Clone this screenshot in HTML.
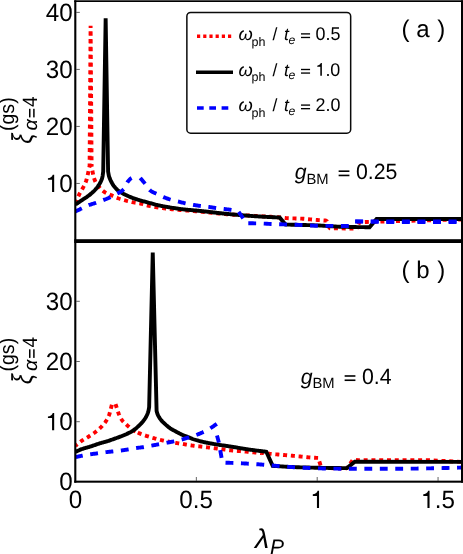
<!DOCTYPE html>
<html><head><meta charset="utf-8"><title>plot</title>
<style>
html,body{margin:0;padding:0;background:#fff;}
body{width:463px;height:554px;overflow:hidden;}
svg{display:block;font-family:"Liberation Sans",sans-serif;fill:#000;text-rendering:geometricPrecision;will-change:transform;}
</style></head><body>
<svg width="463" height="554" viewBox="0 0 463 554">
<rect width="463" height="554" fill="#fff"/>
<defs>
<clipPath id="ca"><rect x="75.5" y="1" width="386.5" height="240.5"/></clipPath>
<clipPath id="cb"><rect x="75.5" y="241.5" width="386.5" height="240.5"/></clipPath>
</defs>
<g clip-path="url(#ca)"><path d="M75.50 202.80 L76.00 201.65 L76.51 200.51 L77.01 199.37 L77.51 198.23 L78.02 197.09 L78.52 195.97 L79.03 194.88 L79.53 193.84 L80.03 192.87 L80.54 191.96 L81.04 191.09 L81.54 190.23 L82.05 189.38 L82.55 188.50 L83.05 187.57 L83.56 186.59 L84.06 185.61 L84.56 184.62 L85.07 183.57 L85.57 182.43 L86.07 181.13 L86.58 179.62 L87.08 177.64 L87.59 175.36 L88.09 173.05 L88.59 170.77 L89.10 168.42 L89.60 166.00 L90.60 25.70 L91.60 166.00" fill="none" stroke="#ff0000" stroke-width="3.9" stroke-linejoin="bevel" stroke-miterlimit="4" stroke-dasharray="4.0 3.78" stroke-dashoffset="0.75"/><path d="M91.60 166.00 L92.40 170.97 L93.20 174.82 L94.01 178.05 L94.81 180.42 L95.61 182.10 L96.41 183.51 L97.22 184.71 L98.02 185.77 L98.82 186.73 L99.62 187.65 L100.42 188.54 L101.23 189.36 L102.03 190.13 L102.83 190.82 L103.63 191.45 L104.43 191.98 L105.24 192.46 L106.04 192.89 L106.84 193.29 L107.64 193.65 L108.45 194.00 L109.25 194.34 L110.05 194.67 L110.85 195.01 L111.65 195.37 L112.46 195.74 L113.26 196.11 L114.06 196.48 L114.86 196.85 L115.66 197.21 L116.47 197.56 L117.27 197.89 L118.07 198.21 L118.87 198.50 L119.68 198.77 L120.48 199.03 L121.28 199.28 L122.08 199.52 L122.88 199.75 L123.69 199.98 L124.49 200.20 L125.29 200.41 L126.09 200.62 L126.90 200.83 L127.70 201.03 L128.50 201.23 L129.30 201.42 L130.10 201.61 L130.91 201.79 L131.71 201.97 L132.51 202.14 L133.31 202.30 L134.11 202.46 L134.92 202.60 L135.72 202.73 L136.52 202.86 L137.32 202.99 L138.13 203.12 L138.93 203.26 L139.73 203.40 L140.53 203.56 L141.33 203.75 L142.14 203.96 L142.94 204.19 L143.74 204.44 L144.54 204.69 L145.34 204.94 L146.15 205.18 L146.95 205.40 L147.75 205.60 L148.55 205.77 L149.36 205.93 L150.16 206.09 L150.96 206.24 L151.76 206.39 L152.56 206.54 L153.37 206.68 L154.17 206.82 L154.97 206.96 L155.77 207.09 L156.58 207.22 L157.38 207.34 L158.18 207.47 L158.98 207.59 L159.78 207.70 L160.59 207.82 L161.39 207.93 L162.19 208.04 L162.99 208.15 L163.79 208.25 L164.60 208.36 L165.40 208.46 L166.20 208.56 L167.00 208.65 L167.81 208.75 L168.61 208.84 L169.41 208.93 L170.21 209.02 L171.01 209.11 L171.82 209.20 L172.62 209.28 L173.42 209.36 L174.22 209.44 L175.02 209.52 L175.83 209.59 L176.63 209.67 L177.43 209.74 L178.23 209.81 L179.04 209.88 L179.84 209.94 L180.64 210.01 L181.44 210.08 L182.24 210.14 L183.05 210.21 L183.85 210.28 L184.65 210.34 L185.45 210.41 L186.26 210.48 L187.06 210.55 L187.86 210.62 L188.66 210.68 L189.46 210.75 L190.27 210.82 L191.07 210.88 L191.87 210.95 L192.67 211.01 L193.47 211.08 L194.28 211.14 L195.08 211.21 L195.88 211.28 L196.68 211.34 L197.49 211.41 L198.29 211.48 L199.09 211.54 L199.89 211.61 L200.69 211.68 L201.50 211.75 L202.30 211.83 L203.10 211.90 L203.90 211.98 L204.70 212.06 L205.51 212.14 L206.31 212.22 L207.11 212.30 L207.91 212.38 L208.72 212.47 L209.52 212.56 L210.32 212.64 L211.12 212.73 L211.92 212.81 L212.73 212.90 L213.53 212.99 L214.33 213.07 L215.13 213.16 L215.94 213.24 L216.74 213.33 L217.54 213.41 L218.34 213.49 L219.14 213.57 L219.95 213.65 L220.75 213.73 L221.55 213.80 L222.35 213.88 L223.15 213.95 L223.96 214.02 L224.76 214.08 L225.56 214.14 L226.36 214.21 L227.17 214.27 L227.97 214.33 L228.77 214.39 L229.57 214.44 L230.37 214.50 L231.18 214.56 L231.98 214.61 L232.78 214.67 L233.58 214.72 L234.38 214.77 L235.19 214.82 L235.99 214.87 L236.79 214.92 L237.59 214.97 L238.40 215.01 L239.20 215.06 L240.00 215.10" fill="none" stroke="#ff0000" stroke-width="3.9" stroke-linejoin="bevel" stroke-miterlimit="4" stroke-dasharray="4.0 3.78" stroke-dashoffset="3.09"/><path d="M240.00 215.10 L240.80 215.14 L241.60 215.18 L242.41 215.22 L243.21 215.25 L244.01 215.29 L244.81 215.33 L245.61 215.37 L246.41 215.42 L247.22 215.46 L248.02 215.50 L248.82 215.54 L249.62 215.58 L250.42 215.62 L251.23 215.67 L252.03 215.71 L252.83 215.75 L253.63 215.80 L254.43 215.84 L255.24 215.89 L256.04 215.93 L256.84 215.98 L257.64 216.02 L258.44 216.07 L259.24 216.11 L260.05 216.16 L260.85 216.21 L261.65 216.25 L262.45 216.30 L263.25 216.34 L264.06 216.39 L264.86 216.43 L265.66 216.48 L266.46 216.52 L267.26 216.57 L268.06 216.62 L268.87 216.67 L269.67 216.71 L270.47 216.76 L271.27 216.81 L272.07 216.86 L272.88 216.91 L273.68 216.97 L274.48 217.02 L275.28 217.08 L276.08 217.13 L276.89 217.19 L277.69 217.25 L278.49 217.31 L279.29 217.37 L280.09 217.43 L280.89 217.50 L281.70 217.57 L282.50 217.66 L283.30 217.76 L284.10 217.85 L284.90 217.94 L285.71 218.02 L286.51 218.09 L287.31 218.14 L288.11 218.18 L288.91 218.22 L289.71 218.25 L290.52 218.28 L291.32 218.31 L292.12 218.34 L292.92 218.36 L293.72 218.39 L294.53 218.41 L295.33 218.43 L296.13 218.46 L296.93 218.48 L297.73 218.51 L298.54 218.53 L299.34 218.56 L300.14 218.60 L300.94 218.63 L301.74 218.67 L302.54 218.71 L303.35 218.77 L304.15 218.82 L304.95 218.89 L305.75 218.96 L306.55 219.03 L307.36 219.11 L308.16 219.19 L308.96 219.26 L309.76 219.34 L310.56 219.41 L311.36 219.47 L312.17 219.54 L312.97 219.62 L313.77 219.69 L314.57 219.76 L315.37 219.83 L316.18 219.90 L316.98 219.97 L317.78 220.03 L318.58 220.10 L319.38 220.16 L320.19 220.21 L320.99 220.27 L321.79 220.32 L322.59 220.37 L323.39 220.42 L324.19 220.47 L325.00 220.51 L325.80 220.56 L326.60 220.60 L329.60 228.20 L356.60 228.60" fill="none" stroke="#ff0000" stroke-width="3.9" stroke-linejoin="bevel" stroke-miterlimit="4" stroke-dasharray="4.0 3.78" stroke-dashoffset="1.85"/><path d="M356.60 228.60 L359.60 222.20 L366.85 221.95 L430.00 220.25 L463.00 219.40" fill="none" stroke="#ff0000" stroke-width="3.9" stroke-linejoin="bevel" stroke-miterlimit="4" stroke-dasharray="4.0 3.78" stroke-dashoffset="3.24"/><path d="M75.50 204.50 L76.10 204.09 L76.70 203.68 L77.31 203.27 L77.91 202.86 L78.51 202.45 L79.11 202.04 L79.72 201.63 L80.32 201.23 L80.92 200.82 L81.52 200.42 L82.12 200.02 L82.73 199.62 L83.33 199.22 L83.93 198.83 L84.53 198.45 L85.13 198.06 L85.74 197.67 L86.34 197.27 L86.94 196.85 L87.54 196.43 L88.15 195.99 L88.75 195.54 L89.35 195.09 L89.95 194.62 L90.55 194.13 L91.16 193.62 L91.76 193.10 L92.36 192.57 L92.96 192.02 L93.57 191.45 L94.17 190.85 L94.77 190.22 L95.37 189.56 L95.97 188.86 L96.58 188.13 L97.18 187.37 L97.78 186.56 L98.38 185.69 L98.98 184.76 L99.59 183.75 L100.19 182.69 L100.79 181.60 L101.39 180.32 L102.00 178.66 L102.60 176.07 L103.20 171.50 L105.65 18.40 L108.10 171.50 L108.90 175.92 L109.70 178.37 L110.50 180.15 L111.31 181.78 L112.11 183.27 L112.91 184.61 L113.71 185.81 L114.51 186.87 L115.31 187.82 L116.11 188.70 L116.92 189.49 L117.72 190.20 L118.52 190.84 L119.32 191.41 L120.12 191.95 L120.92 192.45 L121.72 192.92 L122.53 193.37 L123.33 193.80 L124.13 194.20 L124.93 194.59 L125.73 194.97 L126.53 195.35 L127.33 195.72 L128.14 196.08 L128.94 196.43 L129.74 196.78 L130.54 197.11 L131.34 197.43 L132.14 197.75 L132.94 198.05 L133.74 198.35 L134.55 198.64 L135.35 198.91 L136.15 199.18 L136.95 199.44 L137.75 199.69 L138.55 199.92 L139.35 200.16 L140.16 200.38 L140.96 200.60 L141.76 200.82 L142.56 201.04 L143.36 201.26 L144.16 201.48 L144.96 201.70 L145.77 201.92 L146.57 202.15 L147.37 202.37 L148.17 202.59 L148.97 202.80 L149.77 203.02 L150.57 203.24 L151.38 203.46 L152.18 203.69 L152.98 203.91 L153.78 204.13 L154.58 204.35 L155.38 204.56 L156.18 204.77 L156.99 204.97 L157.79 205.15 L158.59 205.33 L159.39 205.50 L160.19 205.67 L160.99 205.83 L161.79 205.99 L162.60 206.15 L163.40 206.30 L164.20 206.45 L165.00 206.60 L165.80 206.75 L166.60 206.89 L167.40 207.02 L168.21 207.16 L169.01 207.29 L169.81 207.42 L170.61 207.55 L171.41 207.68 L172.21 207.81 L173.01 207.93 L173.81 208.05 L174.62 208.17 L175.42 208.29 L176.22 208.41 L177.02 208.52 L177.82 208.64 L178.62 208.75 L179.42 208.85 L180.23 208.96 L181.03 209.06 L181.83 209.16 L182.63 209.25 L183.43 209.35 L184.23 209.44 L185.03 209.52 L185.84 209.60 L186.64 209.68 L187.44 209.76 L188.24 209.83 L189.04 209.91 L189.84 209.98 L190.64 210.05 L191.45 210.12 L192.25 210.19 L193.05 210.26 L193.85 210.33 L194.65 210.40 L195.45 210.47 L196.25 210.55 L197.06 210.63 L197.86 210.70 L198.66 210.78 L199.46 210.87 L200.26 210.95 L201.06 211.03 L201.86 211.11 L202.67 211.20 L203.47 211.28 L204.27 211.36 L205.07 211.45 L205.87 211.54 L206.67 211.63 L207.47 211.72 L208.28 211.81 L209.08 211.90 L209.88 211.99 L210.68 212.09 L211.48 212.18 L212.28 212.28 L213.08 212.37 L213.89 212.47 L214.69 212.56 L215.49 212.66 L216.29 212.75 L217.09 212.85 L217.89 212.94 L218.69 213.03 L219.49 213.13 L220.30 213.22 L221.10 213.31 L221.90 213.39 L222.70 213.48 L223.50 213.56 L224.30 213.64 L225.10 213.72 L225.91 213.80 L226.71 213.88 L227.51 213.95 L228.31 214.03 L229.11 214.10 L229.91 214.18 L230.71 214.25 L231.52 214.32 L232.32 214.40 L233.12 214.47 L233.92 214.54 L234.72 214.61 L235.52 214.68 L236.32 214.75 L237.13 214.82 L237.93 214.89 L238.73 214.96 L239.53 215.03 L240.33 215.10 L241.13 215.16 L241.93 215.23 L242.74 215.29 L243.54 215.36 L244.34 215.42 L245.14 215.49 L245.94 215.55 L246.74 215.61 L247.54 215.67 L248.35 215.73 L249.15 215.79 L249.95 215.85 L250.75 215.91 L251.55 215.97 L252.35 216.03 L253.15 216.08 L253.96 216.14 L254.76 216.19 L255.56 216.24 L256.36 216.30 L257.16 216.35 L257.96 216.40 L258.76 216.45 L259.56 216.50 L260.37 216.55 L261.17 216.59 L261.97 216.64 L262.77 216.69 L263.57 216.73 L264.37 216.78 L265.17 216.82 L265.98 216.87 L266.78 216.91 L267.58 216.95 L268.38 216.99 L269.18 217.03 L269.98 217.07 L270.78 217.11 L271.59 217.15 L272.39 217.19 L273.19 217.23 L273.99 217.26 L274.79 217.30 L275.59 217.34 L276.39 217.37 L277.20 217.40 L278.00 217.44 L278.80 217.47 L279.60 217.50 L285.50 224.60 L287.50 224.64 L289.50 224.67 L291.50 224.71 L293.50 224.75 L295.50 224.80 L297.50 224.84 L299.50 224.89 L301.50 224.94 L303.50 224.98 L305.50 225.03 L307.50 225.08 L309.50 225.14 L311.50 225.20 L313.50 225.26 L315.50 225.33 L317.50 225.42 L319.50 225.53 L321.50 225.65 L323.50 225.78 L325.50 225.91 L327.50 226.04 L329.50 226.18 L331.50 226.30 L333.50 226.42 L335.50 226.53 L337.50 226.62 L339.50 226.69 L341.50 226.74 L343.50 226.79 L345.50 226.84 L347.50 226.89 L349.50 226.94 L351.50 226.98 L353.50 227.02 L355.50 227.06 L357.50 227.10 L359.50 227.13 L361.50 227.15 L363.50 227.17 L365.50 227.19 L367.50 227.20 L369.50 227.20 L376.60 219.00 L463.00 219.00" fill="none" stroke="#000000" stroke-width="3.9" stroke-linejoin="miter" stroke-miterlimit="4"/><path d="M75.50 211.40 L76.10 211.13 L76.71 210.85 L77.31 210.57 L77.91 210.28 L78.52 209.99 L79.12 209.69 L79.72 209.39 L80.33 209.09 L80.93 208.79 L81.53 208.49 L82.14 208.19 L82.74 207.89 L83.34 207.59 L83.95 207.30 L84.55 207.01 L85.15 206.72 L85.75 206.44 L86.36 206.17 L86.96 205.91 L87.56 205.65 L88.17 205.41 L88.77 205.17 L89.37 204.95 L89.98 204.73 L90.58 204.53 L91.18 204.33 L91.79 204.14 L92.39 203.95 L92.99 203.76 L93.60 203.57 L94.20 203.38 L94.80 203.19 L95.41 203.00 L96.01 202.80 L96.61 202.60 L97.22 202.38 L97.82 202.17 L98.42 201.96 L99.03 201.74 L99.63 201.52 L100.23 201.30 L100.84 201.08 L101.44 200.85 L102.04 200.63 L102.65 200.39 L103.25 200.16 L103.85 199.92 L104.45 199.68 L105.06 199.44 L105.66 199.19 L106.26 198.95 L106.87 198.69 L107.47 198.44 L108.07 198.18 L108.68 197.92 L109.28 197.65 L109.88 197.38 L110.49 197.10 L111.09 196.82 L111.69 196.53 L112.30 196.24 L112.90 195.94 L113.50 195.63 L114.11 195.32 L114.71 195.00 L115.31 194.68 L115.92 194.35 L116.52 194.00 L117.12 193.66 L117.73 193.33 L118.33 193.01 L118.93 192.70 L119.54 192.37 L120.14 192.03 L120.74 191.67 L121.35 191.28 L121.95 190.85 L122.55 190.37 L123.15 189.84 L123.76 189.24 L124.36 188.41 L124.96 187.22 L125.57 185.84 L126.17 184.43 L126.77 183.16 L127.38 182.20 L127.98 181.41 L128.58 180.66 L129.19 179.96 L129.79 179.33 L130.39 178.79 L131.00 178.34 L131.60 178.00" fill="none" stroke="#0000ff" stroke-width="3.9" stroke-linejoin="miter" stroke-miterlimit="4" stroke-dasharray="7.85 7.6" stroke-dashoffset="0.86"/><path d="M140.20 178.00 L141.00 178.88 L141.81 179.78 L142.61 180.71 L143.42 181.66 L144.22 182.64 L145.02 183.63 L145.83 184.73 L146.63 185.93 L147.44 187.16 L148.24 188.33 L149.05 189.36 L149.85 190.16 L150.65 190.76 L151.46 191.30 L152.26 191.78 L153.07 192.21 L153.87 192.61 L154.67 192.98 L155.48 193.35 L156.28 193.71 L157.09 194.09 L157.89 194.49 L158.69 194.89 L159.50 195.28 L160.30 195.66 L161.11 196.03 L161.91 196.40 L162.71 196.75 L163.52 197.09 L164.32 197.41 L165.13 197.73 L165.93 198.05 L166.74 198.36 L167.54 198.66 L168.34 198.95 L169.15 199.23 L169.95 199.50 L170.76 199.75 L171.56 199.99 L172.36 200.21 L173.17 200.41 L173.97 200.60 L174.78 200.79 L175.58 200.96 L176.38 201.14 L177.19 201.32 L177.99 201.50 L178.80 201.70 L179.60 201.90 L180.40 202.10 L181.21 202.31 L182.01 202.52 L182.82 202.72 L183.62 202.93 L184.43 203.13 L185.23 203.32 L186.03 203.50 L186.84 203.67 L187.64 203.84 L188.45 204.00 L189.25 204.15 L190.05 204.30 L190.86 204.45 L191.66 204.60 L192.47 204.74 L193.27 204.88 L194.07 205.01 L194.88 205.15 L195.68 205.28 L196.49 205.41 L197.29 205.54 L198.10 205.67 L198.90 205.79 L199.70 205.91 L200.51 206.03 L201.31 206.14 L202.12 206.24 L202.92 206.34 L203.72 206.42 L204.53 206.51 L205.33 206.59 L206.14 206.67 L206.94 206.76 L207.74 206.84 L208.55 206.93 L209.35 207.03 L210.16 207.14 L210.96 207.25 L211.76 207.37 L212.57 207.49 L213.37 207.61 L214.18 207.73 L214.98 207.85 L215.79 207.96 L216.59 208.07 L217.39 208.17 L218.20 208.27 L219.00 208.36 L219.81 208.45 L220.61 208.54 L221.41 208.63 L222.22 208.72 L223.02 208.81 L223.83 208.90 L224.63 209.00 L225.43 209.11 L226.24 209.21 L227.04 209.32 L227.85 209.43 L228.65 209.55 L229.45 209.67 L230.26 209.79 L231.06 209.92 L231.87 210.06 L232.67 210.21 L233.48 210.36 L234.28 210.53 L235.08 210.71 L235.89 210.90 L236.69 211.09 L237.50 211.29 L238.30 211.50 L246.80 223.30 L248.81 223.30 L250.82 223.31 L252.82 223.32 L254.83 223.34 L256.84 223.35 L258.85 223.40 L260.85 223.47 L262.86 223.56 L264.87 223.66 L266.88 223.77 L268.89 223.87 L270.89 223.96 L272.90 224.04 L274.91 224.11 L276.92 224.18 L278.93 224.24 L280.93 224.30 L282.94 224.36 L284.95 224.42 L286.96 224.48 L288.96 224.54 L290.97 224.60 L292.98 224.67 L294.99 224.73 L297.00 224.80 L299.00 224.87 L301.01 224.95 L303.02 225.03 L305.03 225.14 L307.04 225.26 L309.04 225.39 L311.05 225.52 L313.06 225.64 L315.07 225.73 L317.07 225.79 L319.08 225.81 L321.09 225.83 L323.10 225.85 L325.11 225.86 L327.11 225.88 L329.12 225.89 L331.13 225.90 L333.14 225.91 L335.15 225.92 L337.15 225.93 L339.16 225.93 L341.17 225.94 L343.18 225.94 L345.18 225.95 L347.19 225.95 L349.20 225.95" fill="none" stroke="#0000ff" stroke-width="3.9" stroke-linejoin="miter" stroke-miterlimit="4" stroke-dasharray="7.85 7.6" stroke-dashoffset="0.30"/><path d="M355.20 221.40 L463.00 221.40" fill="none" stroke="#0000ff" stroke-width="3.9" stroke-linejoin="miter" stroke-miterlimit="4" stroke-dasharray="7.9 7.67" stroke-dashoffset="0.00"/><path d="M355.20 221.50 L400.00 222.15 L463.00 222.00" fill="none" stroke="#0000ff" stroke-width="3.9" stroke-linejoin="miter" stroke-miterlimit="4" stroke-dasharray="7.9 7.67" stroke-dashoffset="0.00"/></g>
<g clip-path="url(#cb)"><path d="M75.50 445.70 L75.90 445.41 L76.31 445.12 L76.71 444.82 L77.11 444.50 L77.52 444.18 L77.92 443.85 L78.33 443.52 L78.73 443.18 L79.13 442.85 L79.54 442.51 L79.94 442.18 L80.34 441.85 L80.75 441.53 L81.15 441.22 L81.55 440.92 L81.96 440.63 L82.36 440.36 L82.76 440.09 L83.17 439.84 L83.57 439.59 L83.97 439.35 L84.38 439.11 L84.78 438.88 L85.19 438.65 L85.59 438.42 L85.99 438.19 L86.40 437.96 L86.80 437.72 L87.20 437.49 L87.61 437.25 L88.01 437.01 L88.41 436.75 L88.82 436.50 L89.22 436.24 L89.62 435.98 L90.03 435.72 L90.43 435.47 L90.84 435.20 L91.24 434.94 L91.64 434.67 L92.05 434.40 L92.45 434.13 L92.85 433.85 L93.26 433.57 L93.66 433.29 L94.06 433.00 L94.47 432.70 L94.87 432.40 L95.28 432.09 L95.68 431.78 L96.08 431.46 L96.49 431.14 L96.89 430.81 L97.29 430.48 L97.70 430.14 L98.10 429.80 L98.50 429.45 L98.91 429.09 L99.31 428.72 L99.71 428.35 L100.12 427.97 L100.52 427.58 L100.93 427.18 L101.33 426.77 L101.73 426.35 L102.14 425.93 L102.54 425.50 L102.94 425.06 L103.35 424.61 L103.75 424.13 L104.15 423.64 L104.56 423.13 L104.96 422.60 L105.36 422.04 L105.77 421.45 L106.17 420.82 L106.58 420.14 L106.98 419.41 L107.38 418.65 L107.79 417.84 L108.19 416.99 L108.59 416.12 L109.00 415.22 L109.40 414.30 L111.86 404.80 L115.50 404.10 L118.40 413.00 L118.81 413.97 L119.22 414.91 L119.63 415.83 L120.04 416.70 L120.45 417.52 L120.86 418.29 L121.27 418.99 L121.67 419.62 L122.08 420.18 L122.49 420.70 L122.90 421.19 L123.31 421.65 L123.72 422.08 L124.13 422.49 L124.54 422.88 L124.95 423.26 L125.36 423.63 L125.77 423.99 L126.18 424.35 L126.59 424.72 L127.00 425.09 L127.40 425.46 L127.81 425.83 L128.22 426.20 L128.63 426.56 L129.04 426.92 L129.45 427.27 L129.86 427.62 L130.27 427.96 L130.68 428.29 L131.09 428.62 L131.50 428.93 L131.91 429.24 L132.32 429.53 L132.73 429.82 L133.13 430.09 L133.54 430.35 L133.95 430.60 L134.36 430.84 L134.77 431.07 L135.18 431.29 L135.59 431.50 L136.00 431.70" fill="none" stroke="#ff0000" stroke-width="3.9" stroke-linejoin="bevel" stroke-miterlimit="4" stroke-dasharray="4.0 3.78" stroke-dashoffset="1.57"/><path d="M136.00 431.70 L136.60 432.00 L137.20 432.29 L137.80 432.57 L138.40 432.85 L139.00 433.12 L139.60 433.37 L140.20 433.62 L140.80 433.87 L141.40 434.10 L142.00 434.33 L142.60 434.56 L143.20 434.78 L143.80 435.00 L144.40 435.22 L145.00 435.43 L145.60 435.63 L146.20 435.84 L146.80 436.04 L147.40 436.23 L148.00 436.42 L148.60 436.61 L149.20 436.80 L149.80 436.98 L150.40 437.16 L151.00 437.33 L151.60 437.51 L152.20 437.68 L152.80 437.85 L153.40 438.01 L154.00 438.18 L154.60 438.35 L155.20 438.51 L155.80 438.67 L156.40 438.84 L157.00 439.00 L157.60 439.16 L158.20 439.32 L158.80 439.47 L159.40 439.63 L160.00 439.78 L160.60 439.93 L161.20 440.07 L161.80 440.22 L162.40 440.35 L163.00 440.49 L163.60 440.62 L164.20 440.75 L164.80 440.88 L165.40 441.00 L166.00 441.13 L166.60 441.25 L167.20 441.36 L167.80 441.48 L168.40 441.60 L169.00 441.71 L169.60 441.83 L170.20 441.94 L170.80 442.05 L171.40 442.16 L172.00 442.27 L172.60 442.37 L173.20 442.48 L173.80 442.58 L174.40 442.68 L175.00 442.79 L175.60 442.89 L176.20 442.99 L176.80 443.09 L177.40 443.18 L178.00 443.28 L178.60 443.37 L179.20 443.47 L179.80 443.56 L180.40 443.65 L181.00 443.74 L181.60 443.83 L182.20 443.92 L182.80 444.01 L183.40 444.10 L184.00 444.19 L184.60 444.28 L185.20 444.38 L185.80 444.48 L186.40 444.58 L187.00 444.68 L187.60 444.79 L188.20 444.89 L188.80 445.00 L189.40 445.10 L190.00 445.20 L190.60 445.30 L191.20 445.39 L191.80 445.49 L192.40 445.57 L193.00 445.65 L193.60 445.73 L194.20 445.81 L194.80 445.88 L195.40 445.95 L196.00 446.02 L196.60 446.08 L197.20 446.15 L197.80 446.22 L198.40 446.28 L199.00 446.35 L199.60 446.42 L200.20 446.49 L200.80 446.56 L201.40 446.63 L202.00 446.70 L202.60 446.77 L203.20 446.84 L203.80 446.91 L204.40 446.98 L205.00 447.05 L205.60 447.12 L206.20 447.19 L206.80 447.27 L207.40 447.34 L208.00 447.41 L208.60 447.49 L209.20 447.56 L209.80 447.64 L210.40 447.72 L211.00 447.80 L211.60 447.88 L212.20 447.95 L212.80 448.03 L213.40 448.11 L214.00 448.19 L214.60 448.27 L215.20 448.35 L215.80 448.43 L216.40 448.50 L217.00 448.58 L217.60 448.66 L218.20 448.73 L218.80 448.81 L219.40 448.89 L220.00 448.96 L220.60 449.04 L221.20 449.12 L221.80 449.20 L222.40 449.27 L223.00 449.35 L223.60 449.43 L224.20 449.50 L224.80 449.58 L225.40 449.67 L226.00 449.75 L226.60 449.83 L227.20 449.91 L227.80 449.99 L228.40 450.07 L229.00 450.15 L229.60 450.22 L230.20 450.29 L230.80 450.36 L231.40 450.42 L232.00 450.48 L232.60 450.53 L233.20 450.59 L233.80 450.64 L234.40 450.69 L235.00 450.73 L235.60 450.78 L236.20 450.83 L236.80 450.88 L237.40 450.93 L238.00 450.97 L238.60 451.03 L239.20 451.08 L239.80 451.13 L240.40 451.18 L241.00 451.23 L241.60 451.28 L242.20 451.33 L242.80 451.38 L243.40 451.43 L244.00 451.48 L244.60 451.53 L245.20 451.58 L245.80 451.63 L246.40 451.68 L247.00 451.73 L247.60 451.78 L248.20 451.84 L248.80 451.89 L249.40 451.95 L250.00 452.00 L250.60 452.06 L251.20 452.11 L251.80 452.17 L252.40 452.23 L253.00 452.28 L253.60 452.34 L254.20 452.40 L254.80 452.46 L255.40 452.52 L256.00 452.58 L256.60 452.64 L257.20 452.70 L257.80 452.76 L258.40 452.82 L259.00 452.88 L259.60 452.95 L260.20 453.01 L260.80 453.07 L261.40 453.14 L262.00 453.20" fill="none" stroke="#ff0000" stroke-width="3.9" stroke-linejoin="bevel" stroke-miterlimit="4" stroke-dasharray="4.0 3.78" stroke-dashoffset="5.77"/><path d="M262.00 453.00 L262.60 453.06 L263.21 453.12 L263.81 453.18 L264.41 453.24 L265.02 453.30 L265.62 453.35 L266.22 453.41 L266.83 453.47 L267.43 453.53 L268.03 453.59 L268.64 453.64 L269.24 453.70 L269.84 453.76 L270.45 453.82 L271.05 453.87 L271.65 453.93 L272.25 453.98 L272.86 454.04 L273.46 454.10 L274.06 454.15 L274.67 454.21 L275.27 454.26 L275.87 454.32 L276.48 454.37 L277.08 454.42 L277.68 454.48 L278.29 454.53 L278.89 454.58 L279.49 454.64 L280.10 454.69 L280.70 454.74 L281.30 454.79 L281.91 454.85 L282.51 454.90 L283.11 454.95 L283.72 455.00 L284.32 455.05 L284.92 455.11 L285.53 455.16 L286.13 455.21 L286.73 455.26 L287.34 455.32 L287.94 455.37 L288.54 455.42 L289.15 455.47 L289.75 455.53 L290.35 455.58 L290.95 455.63 L291.56 455.68 L292.16 455.74 L292.76 455.79 L293.37 455.85 L293.97 455.90 L294.57 455.95 L295.18 456.01 L295.78 456.06 L296.38 456.11 L296.99 456.17 L297.59 456.22 L298.19 456.28 L298.80 456.33 L299.40 456.39 L300.00 456.45 L300.61 456.51 L301.21 456.57 L301.81 456.63 L302.42 456.70 L303.02 456.77 L303.62 456.85 L304.23 456.92 L304.83 456.99 L305.43 457.06 L306.04 457.12 L306.64 457.18 L307.24 457.24 L307.85 457.29 L308.45 457.34 L309.05 457.38 L309.65 457.43 L310.26 457.47 L310.86 457.52 L311.46 457.56 L312.07 457.60 L312.67 457.64 L313.27 457.67 L313.88 457.71 L314.48 457.74 L315.08 457.78 L315.69 457.81 L316.29 457.83 L316.89 457.86 L317.50 457.88 L318.10 457.90 L321.50 468.00 L347.00 468.40" fill="none" stroke="#ff0000" stroke-width="3.9" stroke-linejoin="bevel" stroke-miterlimit="4" stroke-dasharray="4.0 3.78" stroke-dashoffset="2.14"/><path d="M347.00 468.40 L352.90 459.60 L358.00 460.30 L380.00 460.15 L428.00 460.10 L463.00 462.00" fill="none" stroke="#ff0000" stroke-width="3.9" stroke-linejoin="bevel" stroke-miterlimit="4" stroke-dasharray="4.0 3.78" stroke-dashoffset="1.94"/><path d="M75.50 452.00 L76.10 451.66 L76.71 451.35 L77.31 451.04 L77.91 450.75 L78.52 450.46 L79.12 450.18 L79.73 449.92 L80.33 449.67 L80.93 449.43 L81.54 449.21 L82.14 449.01 L82.74 448.81 L83.35 448.61 L83.95 448.42 L84.56 448.23 L85.16 448.06 L85.76 447.88 L86.37 447.71 L86.97 447.54 L87.57 447.37 L88.18 447.20 L88.78 447.02 L89.38 446.85 L89.99 446.67 L90.59 446.48 L91.20 446.28 L91.80 446.08 L92.40 445.88 L93.01 445.67 L93.61 445.46 L94.21 445.25 L94.82 445.04 L95.42 444.83 L96.03 444.61 L96.63 444.40 L97.23 444.20 L97.84 443.99 L98.44 443.79 L99.04 443.60 L99.65 443.41 L100.25 443.22 L100.85 443.05 L101.46 442.88 L102.06 442.72 L102.67 442.56 L103.27 442.40 L103.87 442.24 L104.48 442.08 L105.08 441.91 L105.68 441.74 L106.29 441.56 L106.89 441.38 L107.50 441.19 L108.10 440.99 L108.70 440.79 L109.31 440.59 L109.91 440.38 L110.51 440.17 L111.12 439.96 L111.72 439.74 L112.33 439.53 L112.93 439.31 L113.53 439.09 L114.14 438.87 L114.74 438.66 L115.34 438.44 L115.95 438.23 L116.55 438.01 L117.15 437.79 L117.76 437.58 L118.36 437.36 L118.97 437.14 L119.57 436.92 L120.17 436.69 L120.78 436.46 L121.38 436.23 L121.98 435.99 L122.59 435.75 L123.19 435.50 L123.80 435.25 L124.40 434.99 L125.00 434.73 L125.61 434.46 L126.21 434.20 L126.81 433.92 L127.42 433.64 L128.02 433.36 L128.62 433.07 L129.23 432.78 L129.83 432.48 L130.44 432.18 L131.04 431.87 L131.64 431.51 L132.25 431.13 L132.85 430.73 L133.45 430.30 L134.06 429.86 L134.66 429.40 L135.27 428.92 L135.87 428.43 L136.47 427.92 L137.08 427.40 L137.68 426.86 L138.28 426.30 L138.89 425.74 L139.49 425.16 L140.09 424.57 L140.70 423.97 L141.30 423.33 L141.91 422.67 L142.51 421.97 L143.11 421.24 L143.72 420.45 L144.32 419.61 L144.92 418.72 L145.53 417.76 L146.13 416.71 L146.74 415.53 L147.34 414.16 L147.94 412.56 L148.55 410.54 L149.15 407.00 L152.75 252.60 L156.60 411.00 L157.40 413.76 L158.20 415.61 L159.00 417.07 L159.80 418.30 L160.60 419.40 L161.40 420.40 L162.21 421.31 L163.01 422.13 L163.81 422.91 L164.61 423.67 L165.41 424.41 L166.21 425.13 L167.01 425.81 L167.81 426.47 L168.61 427.10 L169.41 427.71 L170.21 428.27 L171.01 428.79 L171.81 429.28 L172.61 429.75 L173.42 430.19 L174.22 430.63 L175.02 431.05 L175.82 431.48 L176.62 431.90 L177.42 432.34 L178.22 432.77 L179.02 433.21 L179.82 433.63 L180.62 434.04 L181.42 434.43 L182.22 434.80 L183.02 435.14 L183.82 435.46 L184.63 435.77 L185.43 436.07 L186.23 436.37 L187.03 436.66 L187.83 436.96 L188.63 437.27 L189.43 437.59 L190.23 437.94 L191.03 438.30 L191.83 438.65 L192.63 438.97 L193.43 439.25 L194.23 439.51 L195.04 439.76 L195.84 440.00 L196.64 440.24 L197.44 440.46 L198.24 440.68 L199.04 440.90 L199.84 441.10 L200.64 441.30 L201.44 441.50 L202.24 441.69 L203.04 441.87 L203.84 442.05 L204.64 442.23 L205.44 442.40 L206.25 442.57 L207.05 442.74 L207.85 442.90 L208.65 443.05 L209.45 443.20 L210.25 443.35 L211.05 443.50 L211.85 443.64 L212.65 443.78 L213.45 443.91 L214.25 444.05 L215.05 444.18 L215.85 444.31 L216.65 444.44 L217.46 444.57 L218.26 444.70 L219.06 444.83 L219.86 444.95 L220.66 445.07 L221.46 445.19 L222.26 445.31 L223.06 445.43 L223.86 445.54 L224.66 445.66 L225.46 445.77 L226.26 445.88 L227.06 446.00 L227.86 446.11 L228.67 446.23 L229.47 446.34 L230.27 446.46 L231.07 446.59 L231.87 446.71 L232.67 446.84 L233.47 446.97 L234.27 447.11 L235.07 447.24 L235.87 447.38 L236.67 447.53 L237.47 447.67 L238.27 447.81 L239.08 447.95 L239.88 448.09 L240.68 448.23 L241.48 448.37 L242.28 448.50 L243.08 448.63 L243.88 448.76 L244.68 448.88 L245.48 449.00 L246.28 449.12 L247.08 449.24 L247.88 449.35 L248.68 449.47 L249.48 449.58 L250.29 449.70 L251.09 449.81 L251.89 449.92 L252.69 450.03 L253.49 450.14 L254.29 450.25 L255.09 450.35 L255.89 450.46 L256.69 450.56 L257.49 450.67 L258.29 450.77 L259.09 450.87 L259.89 450.97 L260.69 451.06 L261.50 451.16 L262.30 451.25 L263.10 451.35 L263.90 451.44 L264.70 451.53 L265.50 451.61 L266.30 451.70 L272.70 465.90 L274.71 466.03 L276.72 466.16 L278.72 466.29 L280.73 466.41 L282.74 466.53 L284.75 466.65 L286.76 466.76 L288.76 466.87 L290.77 466.97 L292.78 467.06 L294.79 467.14 L296.80 467.22 L298.81 467.28 L300.81 467.34 L302.82 467.39 L304.83 467.44 L306.84 467.49 L308.85 467.54 L310.85 467.59 L312.86 467.64 L314.87 467.69 L316.88 467.73 L318.89 467.77 L320.89 467.81 L322.90 467.85 L324.91 467.89 L326.92 467.92 L328.93 467.95 L330.94 467.98 L332.94 468.01 L334.95 468.03 L336.96 468.05 L338.97 468.07 L340.98 468.08 L342.98 468.09 L344.99 468.10 L347.00 468.10 L354.80 461.80 L463.00 461.85" fill="none" stroke="#000000" stroke-width="3.9" stroke-linejoin="miter" stroke-miterlimit="4"/><path d="M75.50 457.10 L76.30 456.92 L77.11 456.75 L77.91 456.58 L78.71 456.41 L79.52 456.25 L80.32 456.08 L81.12 455.92 L81.93 455.77 L82.73 455.61 L83.53 455.46 L84.34 455.31 L85.14 455.16 L85.94 455.01 L86.75 454.87 L87.55 454.73 L88.35 454.59 L89.16 454.46 L89.96 454.34 L90.76 454.22 L91.57 454.11 L92.37 454.00 L93.17 453.90 L93.98 453.80 L94.78 453.70 L95.59 453.61 L96.39 453.51 L97.19 453.41 L98.00 453.30 L98.80 453.19 L99.60 453.07 L100.41 452.96 L101.21 452.84 L102.01 452.72 L102.82 452.60 L103.62 452.48 L104.42 452.37 L105.23 452.26 L106.03 452.16 L106.83 452.06 L107.64 451.97 L108.44 451.88 L109.24 451.79 L110.05 451.71 L110.85 451.62 L111.65 451.54 L112.46 451.45 L113.26 451.36 L114.06 451.27 L114.87 451.18 L115.67 451.10 L116.47 451.01 L117.28 450.92 L118.08 450.84 L118.88 450.74 L119.69 450.65 L120.49 450.55 L121.29 450.45 L122.10 450.34 L122.90 450.23 L123.70 450.12 L124.51 450.00 L125.31 449.88 L126.11 449.76 L126.92 449.63 L127.72 449.51 L128.53 449.38 L129.33 449.25 L130.13 449.10 L130.94 448.96 L131.74 448.81 L132.54 448.66 L133.35 448.51 L134.15 448.37 L134.95 448.23 L135.76 448.10 L136.56 447.98 L137.36 447.87 L138.17 447.77 L138.97 447.67 L139.77 447.58 L140.58 447.49 L141.38 447.40 L142.18 447.30 L142.99 447.20 L143.79 447.09 L144.59 446.97 L145.40 446.84 L146.20 446.69 L147.00 446.53 L147.81 446.37 L148.61 446.21 L149.41 446.04 L150.22 445.87 L151.02 445.71 L151.82 445.56 L152.63 445.41 L153.43 445.26 L154.23 445.12 L155.04 444.97 L155.84 444.83 L156.64 444.68 L157.45 444.54 L158.25 444.39 L159.05 444.25 L159.86 444.10 L160.66 443.94 L161.46 443.79 L162.27 443.64 L163.07 443.48 L163.88 443.33 L164.68 443.17 L165.48 443.02 L166.29 442.86 L167.09 442.70 L167.89 442.55 L168.70 442.39 L169.50 442.24 L170.30 442.08 L171.11 441.93 L171.91 441.77 L172.71 441.61 L173.52 441.44 L174.32 441.27 L175.12 441.10 L175.93 440.93 L176.73 440.76 L177.53 440.58 L178.34 440.40 L179.14 440.21 L179.94 440.02 L180.75 439.82 L181.55 439.62 L182.35 439.40 L183.16 439.18 L183.96 438.93 L184.76 438.68 L185.57 438.42 L186.37 438.16 L187.17 437.89 L187.98 437.63 L188.78 437.37 L189.58 437.11 L190.39 436.86 L191.19 436.62 L191.99 436.37 L192.80 436.12 L193.60 435.87 L194.40 435.62 L195.21 435.35 L196.01 435.07 L196.81 434.77 L197.62 434.47 L198.42 434.16 L199.23 433.83 L200.03 433.50 L200.83 433.15 L201.64 432.80 L202.44 432.44 L203.24 432.06 L204.05 431.68 L204.85 431.28 L205.65 430.86 L206.46 430.42 L207.26 429.97 L208.06 429.51 L208.87 429.04 L209.67 428.56 L210.47 428.07 L211.28 427.58 L212.08 427.07 L212.88 426.55 L213.69 426.02 L214.49 425.48 L215.29 424.93 L216.10 424.37 L216.90 423.80" fill="none" stroke="#0000ff" stroke-width="3.9" stroke-linejoin="miter" stroke-miterlimit="4" stroke-dasharray="7.85 7.6" stroke-dashoffset="0.48"/><path d="M217.00 435.50 L218.90 442.60 L221.60 457.90 L222.30 461.90 L223.20 462.60 L224.20 462.64 L225.21 462.68 L226.21 462.72 L227.21 462.76 L228.22 462.79 L229.22 462.82 L230.22 462.84 L231.23 462.88 L232.23 462.91 L233.23 462.94 L234.24 462.98 L235.24 463.02 L236.24 463.07 L237.25 463.11 L238.25 463.16 L239.25 463.20 L240.26 463.25 L241.26 463.30 L242.26 463.35 L243.27 463.40 L244.27 463.46 L245.27 463.51 L246.28 463.57 L247.28 463.62 L248.28 463.68 L249.29 463.74 L250.29 463.80 L251.29 463.86 L252.30 463.92 L253.30 463.99 L254.30 464.05 L255.31 464.12 L256.31 464.18 L257.31 464.25 L258.32 464.32 L259.32 464.39 L260.32 464.47 L261.33 464.55 L262.33 464.64 L263.33 464.72 L264.34 464.81 L265.34 464.90 L266.34 464.98 L267.35 465.07 L268.35 465.16 L269.35 465.25 L270.36 465.33 L271.36 465.42 L272.36 465.50 L273.37 465.58 L274.37 465.66 L275.37 465.75 L276.38 465.83 L277.38 465.92 L278.38 466.00 L279.39 466.09 L280.39 466.18 L281.39 466.26 L282.40 466.35 L283.40 466.43 L284.40 466.52 L285.41 466.60 L286.41 466.68 L287.41 466.76 L288.42 466.84 L289.42 466.91 L290.42 466.98 L291.43 467.05 L292.43 467.12 L293.43 467.18 L294.44 467.24 L295.44 467.30 L296.44 467.35 L297.45 467.40 L298.45 467.46 L299.45 467.51 L300.46 467.56 L301.46 467.61 L302.46 467.66 L303.47 467.71 L304.47 467.76 L305.47 467.81 L306.48 467.85 L307.48 467.90 L308.48 467.95 L309.49 467.99 L310.49 468.03 L311.49 468.08 L312.50 468.12 L313.50 468.15 L314.50 468.19 L315.51 468.23 L316.51 468.26 L317.51 468.30 L318.52 468.33 L319.52 468.36 L320.52 468.39 L321.53 468.41 L322.53 468.43 L323.53 468.46 L324.54 468.48 L325.54 468.49 L326.54 468.51 L327.55 468.53 L328.55 468.54 L329.55 468.56 L330.56 468.57 L331.56 468.59 L332.56 468.60 L333.57 468.61 L334.57 468.63 L335.57 468.64 L336.58 468.66 L337.58 468.67 L338.58 468.68 L339.59 468.69 L340.59 468.70 L341.59 468.71 L342.60 468.72 L343.60 468.73 L344.61 468.74 L345.61 468.75 L346.61 468.76 L347.62 468.77 L348.62 468.77 L349.62 468.78 L350.63 468.79 L351.63 468.79 L352.63 468.79 L353.64 468.80 L354.64 468.80 L355.64 468.80 L356.65 468.80 L357.65 468.80 L358.65 468.80 L359.66 468.80 L360.66 468.80 L361.66 468.80 L362.67 468.80 L363.67 468.80 L364.67 468.80 L365.68 468.80 L366.68 468.79 L367.68 468.79 L368.69 468.79 L369.69 468.79 L370.69 468.79 L371.70 468.79 L372.70 468.79 L373.70 468.78 L374.71 468.78 L375.71 468.78 L376.71 468.78 L377.72 468.78 L378.72 468.77 L379.72 468.77 L380.73 468.77 L381.73 468.77 L382.73 468.76 L383.74 468.76 L384.74 468.76 L385.74 468.76 L386.75 468.75 L387.75 468.75 L388.75 468.75 L389.76 468.75 L390.76 468.74 L391.76 468.74 L392.77 468.74 L393.77 468.73 L394.77 468.73 L395.78 468.73 L396.78 468.72 L397.78 468.72 L398.79 468.72 L399.79 468.71 L400.79 468.71 L401.80 468.70 L402.80 468.70 L403.80 468.70 L404.81 468.69 L405.81 468.69 L406.81 468.68 L407.82 468.67 L408.82 468.67 L409.82 468.66 L410.83 468.65 L411.83 468.64 L412.83 468.63 L413.84 468.62 L414.84 468.61 L415.84 468.59 L416.85 468.58 L417.85 468.57 L418.85 468.55 L419.86 468.54 L420.86 468.52 L421.86 468.51 L422.87 468.49 L423.87 468.47 L424.87 468.46 L425.88 468.44 L426.88 468.42 L427.88 468.40 L428.89 468.38 L429.89 468.36 L430.89 468.34 L431.90 468.32 L432.90 468.30 L433.90 468.28 L434.91 468.26 L435.91 468.23 L436.91 468.21 L437.92 468.19 L438.92 468.16 L439.92 468.14 L440.93 468.11 L441.93 468.09 L442.93 468.06 L443.94 468.04 L444.94 468.01 L445.94 467.99 L446.95 467.96 L447.95 467.93 L448.95 467.90 L449.96 467.88 L450.96 467.85 L451.96 467.82 L452.97 467.79 L453.97 467.76 L454.97 467.74 L455.98 467.71 L456.98 467.68 L457.98 467.65 L458.99 467.62 L459.99 467.59 L460.99 467.56 L462.00 467.53 L463.00 467.50" fill="none" stroke="#0000ff" stroke-width="3.9" stroke-linejoin="miter" stroke-miterlimit="4" stroke-dasharray="7.85 7.6" stroke-dashoffset="0.50"/></g>
<line x1="76.3" x2="79.8" y1="183.45" y2="183.45" stroke="#222" stroke-width="0.7"/><line x1="76.3" x2="79.8" y1="126.43" y2="126.43" stroke="#222" stroke-width="0.7"/><line x1="76.3" x2="79.8" y1="69.41" y2="69.41" stroke="#222" stroke-width="0.7"/><line x1="76.3" x2="79.8" y1="12.39" y2="12.39" stroke="#222" stroke-width="0.7"/><line x1="76.3" x2="79.8" y1="421.70" y2="421.70" stroke="#222" stroke-width="0.7"/><line x1="76.3" x2="79.8" y1="361.50" y2="361.50" stroke="#222" stroke-width="0.7"/><line x1="76.3" x2="79.8" y1="301.30" y2="301.30" stroke="#222" stroke-width="0.7"/><line x1="196.35" x2="196.35" y1="477" y2="480.8" stroke="#222" stroke-width="0.7"/><line x1="317.20" x2="317.20" y1="477" y2="480.8" stroke="#222" stroke-width="0.7"/><line x1="438.05" x2="438.05" y1="477" y2="480.8" stroke="#222" stroke-width="0.7"/>
<!-- frame -->
<rect x="74.25" y="0.3" width="2.1" height="482.4" fill="#000"/>
<rect x="461" y="0.3" width="2" height="482.4" fill="#000"/>
<rect x="74.25" y="0.3" width="388.75" height="1.7" fill="#000"/>
<rect x="74.25" y="480.65" width="388.75" height="2.05" fill="#000"/>
<rect x="74.25" y="239.2" width="388.75" height="3.8" fill="#000"/>
<text transform="translate(72.60,134.88) scale(1,1.036)" font-size="24.2" text-anchor="end">20</text><text transform="translate(72.60,77.86) scale(1,1.036)" font-size="24.2" text-anchor="end">30</text><text transform="translate(72.60,20.84) scale(1,1.036)" font-size="24.2" text-anchor="end">40</text><text transform="translate(72.60,490.35) scale(1,1.036)" font-size="24.2" text-anchor="end">0</text><text transform="translate(72.60,369.95) scale(1,1.036)" font-size="24.2" text-anchor="end">20</text><text transform="translate(72.60,309.75) scale(1,1.036)" font-size="24.2" text-anchor="end">30</text><path d="M54.18 191.90 L52.07 191.90 L52.07 179.68 L47.93 179.68 L47.93 178.15 C50.09 177.98 52.14 176.90 52.77 174.67 L54.18 174.67 Z" fill="#000"/><text transform="translate(72.60,191.90) scale(1,1.036)" font-size="24.2" text-anchor="end">0</text><path d="M54.18 430.15 L52.07 430.15 L52.07 417.93 L47.93 417.93 L47.93 416.40 C50.09 416.23 52.14 415.15 52.77 412.92 L54.18 412.92 Z" fill="#000"/><text transform="translate(72.60,430.15) scale(1,1.036)" font-size="24.2" text-anchor="end">0</text><text transform="translate(75.50,508.10) scale(1,1.036)" font-size="24.2" text-anchor="middle">0</text><text transform="translate(196.15,508.10) scale(1,1.036)" font-size="24.2" text-anchor="middle">0.5</text><path d="M319.05 508.10 L316.94 508.10 L316.94 495.88 L312.80 495.88 L312.80 494.35 C314.96 494.19 317.01 493.10 317.64 490.87 L319.05 490.87 Z" fill="#000"/><path d="M429.55 508.10 L427.44 508.10 L427.44 495.88 L423.30 495.88 L423.30 494.35 C425.46 494.19 427.51 493.10 428.14 490.87 L429.55 490.87 Z" fill="#000"/><text transform="translate(434.70,508.10) scale(1,1.036)" font-size="24.2" text-anchor="start">.5</text>
<!-- legend -->
<rect x="186.87" y="12.46" width="163.8" height="120.74" rx="3.8" ry="3.8" fill="#fff" stroke="#0a0a0a" stroke-width="1.5"/>
<line x1="197" x2="232.5" y1="36.3" y2="36.3" stroke="#ff0000" stroke-width="3.4" stroke-dasharray="3.2 3.0"/>
<line x1="196" x2="233" y1="72.3" y2="72.3" stroke="#000000" stroke-width="3.5"/>
<line x1="197" x2="232" y1="107.9" y2="107.9" stroke="#0000ff" stroke-width="3.5" stroke-dasharray="6.7 5.6"/>
<text y="40.2" font-size="17.5"><tspan x="238.4" font-style="italic" font-size="18.3">ω</tspan><tspan x="251.6" font-size="12.5" dy="5.6">ph</tspan><tspan x="272.6" dy="-5.6">/</tspan><tspan x="284.0" font-style="italic">t</tspan><tspan x="288.5" font-size="12.2" font-style="italic" dy="3.3">e</tspan></text><rect x="301.00" y="33.22" width="9.06" height="1.34" fill="#000"/><rect x="301.00" y="36.80" width="9.06" height="1.34" fill="#000"/><text transform="translate(315.50,40.20) scale(1,1.03)" font-size="17.9" text-anchor="start">0.5</text>
<text y="75.8" font-size="17.5"><tspan x="238.4" font-style="italic" font-size="18.3">ω</tspan><tspan x="251.6" font-size="12.5" dy="5.6">ph</tspan><tspan x="272.6" dy="-5.6">/</tspan><tspan x="284.0" font-style="italic">t</tspan><tspan x="288.5" font-size="12.2" font-style="italic" dy="3.3">e</tspan></text><rect x="301.00" y="68.82" width="9.06" height="1.34" fill="#000"/><rect x="301.00" y="72.40" width="9.06" height="1.34" fill="#000"/><path d="M321.87 75.80 L320.31 75.80 L320.31 66.76 L317.25 66.76 L317.25 65.63 C318.84 65.51 320.36 64.70 320.83 63.06 L321.87 63.06 Z" fill="#000"/><text transform="translate(325.40,75.80) scale(1,1.03)" font-size="17.9" text-anchor="start">.0</text>
<text y="111.4" font-size="17.5"><tspan x="238.4" font-style="italic" font-size="18.3">ω</tspan><tspan x="251.6" font-size="12.5" dy="5.6">ph</tspan><tspan x="272.6" dy="-5.6">/</tspan><tspan x="284.0" font-style="italic">t</tspan><tspan x="288.5" font-size="12.2" font-style="italic" dy="3.3">e</tspan></text><rect x="301.00" y="104.42" width="9.06" height="1.34" fill="#000"/><rect x="301.00" y="108.00" width="9.06" height="1.34" fill="#000"/><text transform="translate(315.50,111.40) scale(1,1.03)" font-size="17.9" text-anchor="start">2.0</text>
<text x="401.6" y="36.9" font-size="24">( a</text><text x="437.2" y="36.9" font-size="24">)</text>
<text x="401.6" y="278.3" font-size="24">( b</text><text x="437.2" y="278.3" font-size="24">)</text>
<text x="294.8" y="178.7" font-size="21.3" font-style="italic">g</text><text x="306.5" y="183.6" font-size="14.8">BM</text><rect x="338.63" y="170.39" width="10.78" height="1.60" fill="#000"/><rect x="338.63" y="174.65" width="10.78" height="1.60" fill="#000"/><text transform="translate(355.90,178.70) scale(1,1.036)" font-size="21.3" text-anchor="start">0.25</text>
<text x="300.8" y="383.5" font-size="21.3" font-style="italic">g</text><text x="312.5" y="388.4" font-size="14.8">BM</text><rect x="344.63" y="375.19" width="10.78" height="1.60" fill="#000"/><rect x="344.63" y="379.45" width="10.78" height="1.60" fill="#000"/><text transform="translate(361.90,383.50) scale(1,1.036)" font-size="21.3" text-anchor="start">0.4</text>
<g transform="translate(0,0) rotate(-90)"><text transform="translate(-143.55,31.63) scale(0.853,1.105)" font-size="26" text-anchor="start" font-style="italic">ξ</text><text transform="translate(-131.08,13.80) scale(1,1.05)" font-size="19.6" text-anchor="start">(gs)</text><text transform="translate(-130.59,36.85) scale(1.045,1.0)" font-size="19" text-anchor="start" font-style="italic">α</text><rect x="-117.4" y="29.0" width="8.6" height="1.5" fill="#000"/><rect x="-117.4" y="33.15" width="8.6" height="1.5" fill="#000"/><text transform="translate(-106.88,36.85) scale(1,1.09)" font-size="19" text-anchor="start">4</text></g>
<g transform="translate(0,240.5) rotate(-90)"><text transform="translate(-143.55,31.63) scale(0.853,1.105)" font-size="26" text-anchor="start" font-style="italic">ξ</text><text transform="translate(-131.08,13.80) scale(1,1.05)" font-size="19.6" text-anchor="start">(gs)</text><text transform="translate(-130.59,36.85) scale(1.045,1.0)" font-size="19" text-anchor="start" font-style="italic">α</text><rect x="-117.4" y="29.0" width="8.6" height="1.5" fill="#000"/><rect x="-117.4" y="33.15" width="8.6" height="1.5" fill="#000"/><text transform="translate(-106.88,36.85) scale(1,1.09)" font-size="19" text-anchor="start">4</text></g>
<text transform="translate(255.10,548.00) scale(1.06,1.0)" font-size="27.2" text-anchor="start" font-style="italic">λ</text><text transform="translate(270.07,554.10) scale(1.05,1.05)" font-size="20" text-anchor="start" font-style="italic">P</text>
</svg>
</body></html>
